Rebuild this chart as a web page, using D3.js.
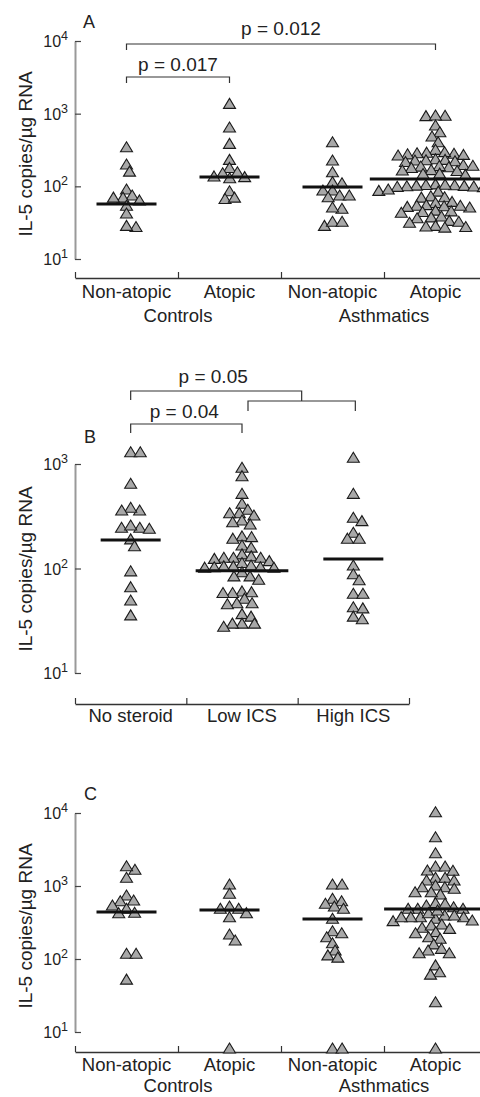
<!DOCTYPE html>
<html>
<head>
<meta charset="utf-8">
<script src="https://cdn.jsdelivr.net/npm/d3@7"></script>
<style>
  body { margin: 0; background: #fff; }
  svg { display: block; font-family: "Liberation Sans", Arial, Helvetica, sans-serif; }
</style>
</head>
<body>
<svg id="chart" width="480" height="1097"></svg>
<script>
// ---- data (IL-5 copies/ug RNA; 0 = undetectable) ----
const subgroups = ["Non-atopic", "Atopic", "Non-atopic", "Atopic"];
const groups = ["Controls", "Asthmatics"];
const steroidGroups = ["No steroid", "Low ICS", "High ICS"];
const yTitle = "IL-5 copies/\u00b5g RNA";

// Panel A
const ctrlNonAtopicA = [351, 203, 162, 92, 76, 71, 71, 65, 55, 43, 28, 29];
const ctrlAtopicA = [1386, 654, 390, 235, 182, 154, 159, 139, 136, 131, 87, 68, 71];
const asthNonAtopicA = [410, 230, 159, 112, 116, 89, 89, 76, 72, 76, 50, 52, 29, 33, 33];
const asthAtopicA = [950, 940, 960, 697, 564, 492, 410, 323, 295, 290, 285, 280, 275, 270, 300,
  240, 235, 230, 225, 220, 232, 200, 195, 190, 186, 182, 193, 170, 165, 168, 150, 146, 152,
  108, 106, 104, 102, 100, 105, 103, 101, 107, 99, 90, 88, 92, 86, 74, 71, 72, 62, 60,
  56, 55, 54, 53, 52, 55, 46, 45, 44, 47, 39, 38, 37, 34, 33, 32, 29, 28, 28.5, 27.5];
const mediansA = [57, 134, 98, 126];
const pLabelsA = ["p = 0.017", "p = 0.012"];

// Panel B
const noSteroidB = [1310, 1310, 654, 363, 385, 363, 248, 248, 261, 243, 192, 165, 95, 67, 50, 36];
const lowIcsB = [930, 773, 524, 421, 369, 342, 342, 325, 291, 280, 267, 205, 202, 195, 168, 160,
  138, 132, 128, 128, 128, 125, 119, 114, 108, 106, 106, 104, 104, 103, 103, 93, 85, 85, 79,
  61, 60, 59, 59, 52, 47, 47, 46, 37, 35, 30, 30, 30, 28];
const highIcsB = [1159, 524, 309, 287, 222, 195, 195, 108, 89, 78, 58, 58, 43, 42, 35, 33];
const mediansB = [187, 95, 123];
const pLabelsB = ["p = 0.04", "p = 0.05"];

// Panel C
const ctrlNonAtopicC = [1694, 1897, 1316, 753, 629, 643, 495, 549, 431, 436, 120, 120, 53];
const ctrlAtopicC = [1065, 794, 532, 495, 495, 431, 380, 220, 182, 0];
const asthNonAtopicC = [1065, 1065, 679, 629, 579, 532, 495, 361, 244, 229, 202, 167, 133, 114, 106, 0, 0];
const asthAtopicC = [10420, 4736, 2858, 1656, 1879, 1879, 1640, 1316, 1316, 1208, 1208,
  978, 930, 978, 1032, 777, 835, 835, 495, 549, 520, 591, 495, 579, 495,
  380, 361, 335, 380, 401, 431, 469, 380, 380, 401, 302, 272, 292, 342, 263,
  237, 202, 229, 192, 161, 140, 122, 133, 122, 83, 67, 62, 26, 0];
const mediansC = [440, 469, 353, 484];

const ticks4 = [10, 100, 1000, 10000];
const ticks3 = [10, 100, 1000];

// ---- layout ----
const panels = [
  {
    letter: "A", letterAt: [83, 28],
    labels: subgroups, groupLabels: groups,
    series: [ctrlNonAtopicA, ctrlAtopicA, asthNonAtopicA, asthAtopicA], medians: mediansA,
    yDomain: [10, 1e4], yRange: [259, 41], ticks: ticks4,
    xRange: [75, 487], xAxisY: 278, labelY: 298, groupY: 322, titleY: 154,
    brackets: [
      { from: 0, to: 1, y: 77, drop: 6, text: pLabelsA[0], textY: 71 },
      { from: 0, to: 3, y: 44, drop: 6, text: pLabelsA[1], textY: 35 }
    ]
  },
  {
    letter: "B", letterAt: [84, 443],
    labels: steroidGroups, groupLabels: null,
    series: [noSteroidB, lowIcsB, highIcsB], medians: mediansB,
    yDomain: [10, 1e3], yRange: [673, 464], ticks: ticks3,
    xRange: [75, 409], xAxisY: 704, labelY: 722, groupY: null, titleY: 569,
    brackets: null
  },
  {
    letter: "C", letterAt: [84, 800],
    labels: subgroups, groupLabels: groups,
    series: [ctrlNonAtopicC, ctrlAtopicC, asthNonAtopicC, asthAtopicC], medians: mediansC,
    yDomain: [10, 1e4], yRange: [1032, 813], ticks: ticks4,
    xRange: [75, 487], xAxisY: 1052, labelY: 1071, groupY: 1092, titleY: 926,
    brackets: null
  }
];

const svg = d3.select("#chart");
const triangle = "M0,-5L6,5L-6,5Z";

// deterministic beeswarm with an elliptical footprint (w across, h up/down):
// each point goes to the free offset closest to the centre line
function swarm(ys, w, h) {
  const k = w / h;
  const pts = ys.map((y, i) => ({ y, x: 0, i }));
  const placed = [];
  pts.slice().sort((a, b) => a.y - b.y).forEach(p => {
    const near = placed.filter(q => Math.abs(q.y - p.y) < h);
    const cands = [0];
    near.forEach(q => {
      const dy = (q.y - p.y) * k;
      const dx = Math.sqrt(w * w - dy * dy);
      cands.push(q.x - dx, q.x + dx);
    });
    cands.sort((a, b) => Math.abs(a) - Math.abs(b) || b - a);
    p.x = cands.find(c => near.every(q => (q.x - c) ** 2 + ((q.y - p.y) * k) ** 2 >= w * w - 0.01));
    placed.push(p);
  });
  return pts;
}

function drawPanel(p) {
  const g = svg.append("g");
  const n = p.series.length;
  const x = d3.scaleBand().domain(d3.range(n)).range(p.xRange);
  const edge = d3.scaleLinear().domain([0, n]).range(p.xRange);
  const cx = i => x(i) + x.bandwidth() / 2;
  const y = d3.scaleLog().domain(p.yDomain).range(p.yRange);
  const yOf = v => v > 0 ? y(v) : p.xAxisY - 4;

  // y axis
  const ya = g.append("g")
    .attr("transform", `translate(${p.xRange[0]},0)`)
    .call(d3.axisRight(y).tickValues(p.ticks).tickSize(6).tickSizeOuter(0).tickFormat(""));
  ya.select(".domain").attr("stroke", "#999").attr("stroke-width", 2);
  ya.selectAll(".tick line").attr("stroke", "#444").attr("stroke-width", 1.2);

  const tl = g.selectAll("text.ytick").data(p.ticks).join("text")
    .attr("class", "ytick")
    .attr("x", p.xRange[0] - 7)
    .attr("y", d => y(d) + 6)
    .attr("text-anchor", "end")
    .attr("fill", "#222")
    .style("font-size", "16px");
  tl.append("tspan").text("10");
  tl.append("tspan").attr("dy", -7).style("font-size", "12.5px").text(d => Math.round(Math.log10(d)));

  // x axis
  const xa = g.append("g")
    .attr("transform", `translate(0,${p.xAxisY})`)
    .call(d3.axisTop(edge).tickValues(d3.range(n + 1)).tickSize(6).tickSizeOuter(0).tickFormat(""));
  xa.select(".domain").attr("stroke", "#333").attr("stroke-width", 1.4);
  xa.selectAll(".tick line").attr("stroke", "#333").attr("stroke-width", 1.2);

  g.selectAll("text.cat").data(p.labels).join("text")
    .attr("class", "cat")
    .attr("x", (d, i) => cx(i))
    .attr("y", p.labelY)
    .attr("text-anchor", "middle")
    .attr("fill", "#222")
    .style("font-size", "18.5px")
    .text(d => d);

  if (p.groupLabels) {
    g.selectAll("text.grp").data(p.groupLabels).join("text")
      .attr("class", "grp")
      .attr("x", (d, i) => (edge(i * 2) + edge(i * 2 + 2)) / 2)
      .attr("y", p.groupY)
      .attr("text-anchor", "middle")
      .attr("fill", "#222")
      .style("font-size", "18.5px")
      .text(d => d);
  }

  // axis title and panel letter
  g.append("text")
    .attr("transform", `translate(32,${p.titleY}) rotate(-90)`)
    .attr("text-anchor", "middle")
    .attr("fill", "#222")
    .style("font-size", "19px")
    .text(yTitle);
  g.append("text")
    .attr("x", p.letterAt[0]).attr("y", p.letterAt[1])
    .attr("fill", "#222")
    .style("font-size", "18px")
    .text(p.letter);

  // points
  p.series.forEach((vals, i) => {
    const pts = swarm(vals.map(yOf), 9.6, 7.5);
    g.append("g").selectAll("path").data(pts).join("path")
      .attr("d", triangle)
      .attr("transform", d => `translate(${cx(i) + d.x},${d.y})`)
      .attr("fill", "#a8a8a8")
      .attr("stroke", "#1a1a1a")
      .attr("stroke-width", 1.1)
      .attr("stroke-linejoin", "miter");
    const half = Math.max(30, d3.max(pts, d => Math.abs(d.x)) + 9);
    g.append("line")
      .attr("x1", cx(i) - half).attr("x2", cx(i) + half)
      .attr("y1", y(p.medians[i])).attr("y2", y(p.medians[i]))
      .attr("stroke", "#111")
      .attr("stroke-width", 3);
  });

  // significance brackets
  const bracket = (x1, x2, yy, d1, d2) => {
    g.append("path")
      .attr("d", `M${x1},${yy + d1}V${yy}H${x2}V${yy + d2}`)
      .attr("fill", "none")
      .attr("stroke", "#333")
      .attr("stroke-width", 1.2);
  };
  const pText = (tx, ty, s) => g.append("text")
    .attr("x", tx).attr("y", ty)
    .attr("text-anchor", "middle")
    .attr("fill", "#222")
    .style("font-size", "19px")
    .text(s);

  if (p.brackets) {
    p.brackets.forEach(b => {
      bracket(cx(b.from), cx(b.to), b.y, b.drop, b.drop);
      pText((cx(b.from) + cx(b.to)) / 2, b.textY, b.text);
    });
  }
  if (p.letter === "B") {
    // Low ICS vs High ICS joined, then compared with No steroid
    const l = cx(1) + 6, r = cx(2) + 2, mid = (l + r) / 2;
    bracket(l, r, 401, 10, 10);
    bracket(cx(0), mid, 391, 9, 10);
    pText((cx(0) + mid) / 2 - 3, 383, pLabelsB[1]);
    bracket(cx(0), cx(1), 424, 9, 9);
    pText((cx(0) + cx(1)) / 2 - 2, 418, pLabelsB[0]);
  }
}

panels.forEach(drawPanel);
</script>
</body>
</html>
